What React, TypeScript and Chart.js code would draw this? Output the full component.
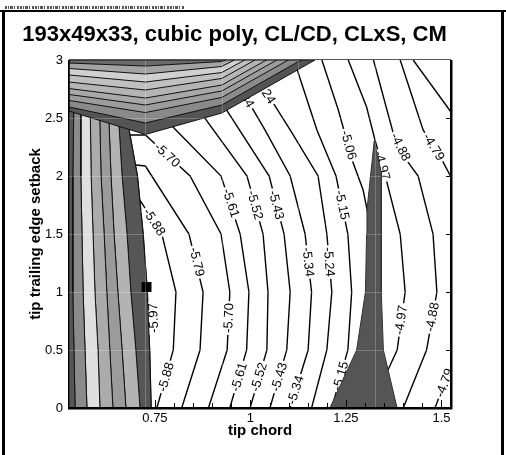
import React, { useEffect, useRef } from 'react';
import { Chart, registerables } from 'chart.js';

Chart.register(...registerables);

type P = [number, number];

const FONT = '"Liberation Sans", Arial, Helvetica, sans-serif';
const TITLE = '193x49x33, cubic poly, CL/CD, CLxS, CM';
const X_TITLE = 'tip chord';
const Y_TITLE = 'tip trailing edge setback';

// axes
const xRange: P = [0.525, 1.525];
const yRange: P = [0, 3];
const xTickValues = [0.75, 1, 1.25, 1.5];
const xTickLabels = ['0.75', '1', '1.25', '1.5'];
const xMinorTicks = [0.8, 0.85, 0.9, 0.95, 1.05, 1.1, 1.15, 1.2, 1.3, 1.35, 1.4, 1.45];
const yTickValues = [0, 0.5, 1, 1.5, 2, 2.5, 3];
const yTickLabels = ['0', '0.5', '1', '1.5', '2', '2.5', '3'];
const gridColumns = [0.725, 0.925, 1.125, 1.325];
const gridRows = [0.5, 1, 1.5, 2, 2.5];

// contour lines (tip chord, setback)
const line597: P[] = [[0.740, 0], [0.736, 0.5], [0.730, 1], [0.719, 1.5], [0.704, 2], [0.682, 2.40]];
const line588: P[] = [[0.755, 0], [0.798, 0.5], [0.805, 1], [0.768, 1.5], [0.711, 1.79]];
const line579: P[] = [[0.820, 0], [0.868, 0.5], [0.876, 1], [0.839, 1.5], [0.725, 2.086], [0.700, 2.095]];
const line570: P[] = [[0.890, 0], [0.939, 0.5], [0.946, 1], [0.923, 1.5], [0.842, 2], [0.725, 2.353], [0.682, 2.353]];
const line561: P[] = [[0.946, 0], [0.990, 0.5], [0.996, 1], [0.973, 1.5], [0.923, 2], [0.787, 2.457]];
const line552: P[] = [[0.999, 0], [1.043, 0.5], [1.046, 1], [1.033, 1.5], [0.991, 2], [0.873, 2.534]];
const line543: P[] = [[1.051, 0], [1.095, 0.5], [1.104, 1], [1.088, 1.5], [1.049, 2], [0.931, 2.603]];
const line534: P[] = [[1.104, 0], [1.151, 0.5], [1.160, 1], [1.143, 1.5], [1.104, 2], [1.038, 2.397], [0.978, 2.733]];
const line524: P[] = [[1.160, 0], [1.200, 0.5], [1.213, 1], [1.200, 1.5], [1.177, 2], [1.104, 2.397], [1.030, 2.784]];
const line515: P[] = [[1.213, 0], [1.255, 0.5], [1.265, 1], [1.255, 1.5], [1.224, 2], [1.174, 2.397], [1.120, 2.94]];
const line506: P[] = [[1.187, 3], [1.230, 2.569], [1.268, 2.121], [1.295, 1.879], [1.308, 1.664]];
const line497: P[] = [[1.256, 3], [1.304, 2.595], [1.326, 2.310], [1.357, 1.948], [1.392, 1.5], [1.405, 1], [1.384, 0.5], [1.360, 0.328]];
const line488: P[] = [[1.322, 3], [1.373, 2.379], [1.412, 2.121], [1.439, 2], [1.478, 1.5], [1.488, 1], [1.461, 0.5], [1.400, 0]];
const line479a: P[] = [[1.392, 3], [1.452, 2.397], [1.504, 2.121], [1.525, 1.991]];
const line479b: P[] = [[1.525, 0.362], [1.483, 0]];
const line470: P[] = [[1.426, 3], [1.525, 2.552]];

const contourLines: { level: number; pts: P[] }[] = [
  { level: -5.97, pts: line597 },
  { level: -5.88, pts: line588 },
  { level: -5.79, pts: line579 },
  { level: -5.70, pts: line570 },
  { level: -5.61, pts: line561 },
  { level: -5.52, pts: line552 },
  { level: -5.43, pts: line543 },
  { level: -5.34, pts: line534 },
  { level: -5.24, pts: line524 },
  { level: -5.15, pts: line515 },
  { level: -5.06, pts: line506 },
  { level: -4.97, pts: line497 },
  { level: -4.88, pts: line488 },
  { level: -4.79, pts: line479a },
  { level: -4.79, pts: line479b },
  { level: -4.70, pts: line470 },
];

// inline labels: level, tip chord, setback
const contourLabels: [number, number, number][] = [
  [-5.70, 0.782, 2.181],
  [-5.70, 0.943, 0.776],
  [-5.79, 0.860, 1.259],
  [-5.88, 0.748, 1.603],
  [-5.88, 0.779, 0.267],
  [-5.97, 0.746, 0.776],
  [-5.61, 0.949, 1.767],
  [-5.61, 0.970, 0.267],
  [-5.52, 1.012, 1.750],
  [-5.52, 1.022, 0.267],
  [-5.43, 1.068, 1.750],
  [-5.43, 1.075, 0.267],
  [-5.34, 0.982, 2.707],
  [-5.34, 1.151, 1.259],
  [-5.34, 1.118, 0.155],
  [-5.24, 1.037, 2.741],
  [-5.24, 1.206, 1.259],
  [-5.15, 1.240, 1.750],
  [-5.15, 1.236, 0.276],
  [-5.06, 1.257, 2.267],
  [-4.97, 1.345, 2.092],
  [-4.97, 1.394, 0.759],
  [-4.88, 1.393, 2.250],
  [-4.88, 1.476, 0.784],
  [-4.79, 1.480, 2.250],
  [-4.79, 1.508, 0.216],
];

// flooded bands along the left side (boundaries at the band rows)
const bandRows = [0, 0.5, 1, 1.5, 2, 2.7];
const bandEdge0 = [0.525, 0.525, 0.525, 0.525, 0.525, 0.525];
const bandEdge1 = [0.541, 0.538, 0.535, 0.535, 0.535, 0.538];
const bandEdge2 = [0.572, 0.567, 0.562, 0.559, 0.556, 0.556];
const bandEdge3 = [0.606, 0.601, 0.593, 0.588, 0.583, 0.580];
const bandEdge4 = [0.640, 0.632, 0.624, 0.617, 0.609, 0.604];
const bandEdge5 = [0.674, 0.664, 0.653, 0.643, 0.635, 0.627];
const bandEdge6 = [0.711, 0.700, 0.687, 0.677, 0.664, 0.651];
const leftBandColors = ['#575757', '#8b8b8b', '#dfdfdf', '#ababab', '#9b9b9b', '#b3b3b3', '#565656'];

// flooded bands along the top (boundary heights at x = 0.525, 0.725, 0.925, then up to y = 3)
const topBandLeftY = [2.974, 2.927, 2.871, 2.810, 2.754, 2.703, 2.651, 2.595, 2.560];
const topBandMidY = [2.948, 2.879, 2.810, 2.741, 2.672, 2.612, 2.547, 2.457, 2.358];
const topBandRightY = [2.987, 2.944, 2.892, 2.841, 2.784, 2.733, 2.677, 2.612, 2.543];
const topBandEndX = [0.935, 0.958, 0.985, 1.012, 1.042, 1.069, 1.099, 1.133, 1.169];
const topBandColors = ['#6b6b6b', '#a3a3a3', '#d0d0d0', '#c0c0c0', '#b4b4b4', '#a8a8a8', '#9c9c9c', '#8a8a8a', '#545454'];

// narrow flooded spike
const spike: P[] = [
  [1.208, 0], [1.278, 0.5], [1.301, 1], [1.304, 1.5], [1.305, 1.707], [1.324, 2.302],
  [1.343, 2.026], [1.343, 1.5], [1.342, 1], [1.348, 0.5], [1.384, 0], [1.208, 0],
];
const spikeColor = '#555555';

// design point
const optimum: P = [0.728, 1.043];

const LABEL_SIZE = 13;

const toXY = (pts: P[]) => pts.map(([x, y]) => ({ x, y }));

function edgePoints(xs: number[]): P[] {
  return xs.map((x, i) => [x, bandRows[i]] as P);
}

function segDist(px: number, py: number, ax: number, ay: number, bx: number, by: number) {
  const dx = bx - ax, dy = by - ay;
  const l2 = dx * dx + dy * dy || 1;
  let t = ((px - ax) * dx + (py - ay) * dy) / l2;
  t = Math.max(0, Math.min(1, t));
  const cx = ax + t * dx, cy = ay + t * dy;
  return Math.hypot(px - cx, py - cy);
}

export default function App() {
  const ref = useRef<HTMLCanvasElement | null>(null);

  useEffect(() => {
    const canvas = ref.current;
    if (!canvas) return;

    const datasets: any[] = [];

    // on top: design point marker
    datasets.push({
      data: toXY([optimum]),
      showLine: false,
      pointStyle: 'rect',
      pointRadius: 7,
      pointBackgroundColor: '#000',
      pointBorderColor: '#000',
      pointBorderWidth: 0,
    });

    // top flood bands, smallest (topmost) first so it is drawn last
    for (let k = 0; k < topBandLeftY.length; k++) {
      const poly: P[] = [
        [0.525, topBandLeftY[k]],
        [0.725, topBandMidY[k]],
        [0.925, topBandRightY[k]],
        [topBandEndX[k], 3],
        [0.525, 3],
        [0.525, topBandLeftY[k]],
      ];
      datasets.push({
        data: toXY(poly),
        showLine: true,
        fill: 'shape',
        backgroundColor: topBandColors[k],
        borderColor: '#111',
        borderWidth: 1,
        pointRadius: 0,
        tension: 0,
      });
    }

    // left flood bands
    const darkEdge: P[] = [...line597, [0.682, 2.7]];
    const edges: P[][] = [
      edgePoints(bandEdge0), edgePoints(bandEdge1), edgePoints(bandEdge2), edgePoints(bandEdge3),
      edgePoints(bandEdge4), edgePoints(bandEdge5), edgePoints(bandEdge6), darkEdge,
    ];
    for (let i = 0; i < edges.length - 1; i++) {
      const a = edges[i];
      const b = edges[i + 1];
      const poly: P[] = [...a, ...[...b].reverse(), a[0]];
      datasets.push({
        data: toXY(poly),
        showLine: true,
        fill: 'shape',
        backgroundColor: leftBandColors[i],
        borderColor: '#111',
        borderWidth: 1,
        pointRadius: 0,
        tension: 0,
      });
    }

    datasets.push({
      data: toXY(spike),
      showLine: true,
      fill: 'shape',
      backgroundColor: spikeColor,
      borderColor: '#333',
      borderWidth: 1,
      pointRadius: 0,
      tension: 0,
    });

    const labelLayer = datasets.length;
    for (const c of contourLines) {
      datasets.push({
        data: toXY(c.pts),
        showLine: true,
        fill: false,
        borderColor: '#000',
        borderWidth: 1.4,
        pointRadius: 0,
        tension: 0,
      });
    }

    const decor = {
      id: 'contourDecor',
      afterDatasetDraw(chart: any, args: any) {
        if (args.index !== labelLayer) return;
        const { ctx, chartArea: a, scales } = chart;
        const xs = scales.x, ys = scales.y;
        ctx.save();
        ctx.beginPath();
        ctx.rect(a.left, a.top, a.right - a.left, a.bottom - a.top);
        ctx.clip();
        ctx.font = `${LABEL_SIZE}px ${FONT}`;
        ctx.textAlign = 'center';
        ctx.textBaseline = 'middle';
        for (const [level, lx, ly] of contourLabels) {
          const px = xs.getPixelForValue(lx);
          const py = ys.getPixelForValue(ly);
          let best = Infinity;
          let ang = 0;
          for (const c of contourLines) {
            if (c.level !== level) continue;
            for (let i = 0; i < c.pts.length - 1; i++) {
              const ax = xs.getPixelForValue(c.pts[i][0]);
              const ay = ys.getPixelForValue(c.pts[i][1]);
              const bx = xs.getPixelForValue(c.pts[i + 1][0]);
              const by = ys.getPixelForValue(c.pts[i + 1][1]);
              const d = segDist(px, py, ax, ay, bx, by);
              if (d < best) {
                best = d;
                ang = Math.atan2(by - ay, bx - ax);
              }
            }
          }
          while (ang > Math.PI / 2) ang -= Math.PI;
          while (ang <= -Math.PI / 2) ang += Math.PI;
          if (ang > (86 * Math.PI) / 180) ang -= Math.PI;
          const text = level.toFixed(2);
          const w = ctx.measureText(text).width;
          ctx.save();
          ctx.translate(px, py);
          ctx.rotate(ang);
          ctx.fillStyle = '#fff';
          ctx.fillRect(-w / 2 - 2, -LABEL_SIZE * 0.42, w + 4, LABEL_SIZE * 0.84);
          ctx.fillStyle = '#000';
          ctx.fillText(text, 0, 0.5);
          ctx.restore();
        }
        ctx.restore();
      },
      afterDatasetsDraw(chart: any) {
        const { ctx, chartArea: a, scales } = chart;
        const xs = scales.x, ys = scales.y;
        ctx.save();
        // faint mesh lines over the flooded areas
        ctx.strokeStyle = 'rgba(255,255,255,0.22)';
        ctx.lineWidth = 1;
        ctx.beginPath();
        for (const gx of gridColumns) {
          const px = Math.round(xs.getPixelForValue(gx)) + 0.5;
          ctx.moveTo(px, a.top);
          ctx.lineTo(px, a.bottom);
        }
        for (const gy of gridRows) {
          const py = Math.round(ys.getPixelForValue(gy)) + 0.5;
          ctx.moveTo(a.left, py);
          ctx.lineTo(a.right, py);
        }
        ctx.stroke();

        // frame of the plot
        ctx.fillStyle = '#000';
        ctx.fillRect(a.left - 1, a.bottom - 1, a.right - a.left + 2, 2.5);
        ctx.fillRect(a.right - 1, a.top, 2.5, a.bottom - a.top + 1);
        ctx.fillRect(a.left - 1, a.top, 1, a.bottom - a.top);
        ctx.fillStyle = '#555';
        ctx.fillRect(a.left, a.top - 1, a.right - a.left, 1);

        // tick marks
        ctx.strokeStyle = '#000';
        ctx.lineWidth = 1;
        ctx.beginPath();
        for (const v of xTickValues) {
          const px = Math.round(xs.getPixelForValue(v)) + 0.5;
          ctx.moveTo(px, a.bottom - 1);
          ctx.lineTo(px, a.bottom - 8);
        }
        for (const v of xMinorTicks) {
          const px = Math.round(xs.getPixelForValue(v)) + 0.5;
          ctx.moveTo(px, a.bottom - 1);
          ctx.lineTo(px, a.bottom - 5);
        }
        for (const v of gridRows) {
          const py = Math.round(ys.getPixelForValue(v)) + 0.5;
          ctx.moveTo(a.right - 1, py);
          ctx.lineTo(a.right - 5, py);
        }
        ctx.stroke();
        ctx.restore();
      },
      afterDraw(chart: any) {
        const { ctx, chartArea: a } = chart;
        ctx.save();
        ctx.fillStyle = '#000';
        ctx.textAlign = 'center';
        ctx.textBaseline = 'alphabetic';

        // main title, sized to its frame width
        ctx.font = `bold 20px ${FONT}`;
        const tw = ctx.measureText(TITLE).width;
        const ts = (20 * 425) / tw;
        ctx.font = `bold ${ts.toFixed(2)}px ${FONT}`;
        ctx.fillText(TITLE, 234.5, 41);

        // axis titles
        ctx.font = `bold 15px ${FONT}`;
        ctx.fillText(X_TITLE, (a.left + a.right) / 2, 435);
        ctx.save();
        ctx.translate(40, (a.top + a.bottom) / 2);
        ctx.rotate(-Math.PI / 2);
        ctx.fillText(Y_TITLE, 0, 0);
        ctx.restore();

        // page frame
        ctx.fillRect(2, 10, 3, 445);
        ctx.fillRect(0, 10, 506, 2);
        ctx.fillRect(501, 10, 3, 445);

        // header strip
        ctx.strokeStyle = '#555';
        ctx.lineWidth = 3;
        ctx.setLineDash([2, 1, 1, 1, 3, 1, 1, 2, 2, 1]);
        ctx.beginPath();
        ctx.moveTo(5, 7.5);
        ctx.lineTo(185, 7.5);
        ctx.stroke();
        ctx.restore();
      },
    };

    const chart = new Chart(canvas, {
      type: 'line',
      data: { datasets },
      options: {
        animation: false,
        responsive: false,
        maintainAspectRatio: false,
        devicePixelRatio: 1,
        layout: { padding: { left: 0, top: 60, right: 55, bottom: 0 } },
        plugins: {
          legend: { display: false },
          tooltip: { enabled: false },
          title: { display: false },
        },
        elements: { line: { tension: 0 }, point: { radius: 0 } },
        scales: {
          x: {
            type: 'linear',
            min: xRange[0],
            max: xRange[1],
            grid: { display: false, drawTicks: false },
            border: { display: false },
            afterBuildTicks: (s: any) => {
              s.ticks = xTickValues.map((v) => ({ value: v }));
            },
            afterFit: (s: any) => {
              s.height = 47;
            },
            ticks: {
              callback: (_v: any, i: number) => xTickLabels[i],
              font: { family: FONT, size: 13 },
              color: '#000',
              padding: 3,
              maxRotation: 0,
              autoSkip: false,
            },
          },
          y: {
            type: 'linear',
            min: yRange[0],
            max: yRange[1],
            grid: { display: false, drawTicks: false },
            border: { display: false },
            afterBuildTicks: (s: any) => {
              s.ticks = yTickValues.map((v) => ({ value: v }));
            },
            afterFit: (s: any) => {
              s.width = 69;
            },
            ticks: {
              callback: (_v: any, i: number) => yTickLabels[i],
              font: { family: FONT, size: 13 },
              color: '#000',
              padding: 6,
              autoSkip: false,
            },
          },
        },
      } as any,
      plugins: [decor],
    });

    return () => chart.destroy();
  }, []);

  return (
    <div style={{ position: 'fixed', left: 0, top: 0, width: 506, height: 455, background: '#fff' }}>
      <canvas ref={ref} width={506} height={455} style={{ display: 'block', width: 506, height: 455 }} />
    </div>
  );
}
